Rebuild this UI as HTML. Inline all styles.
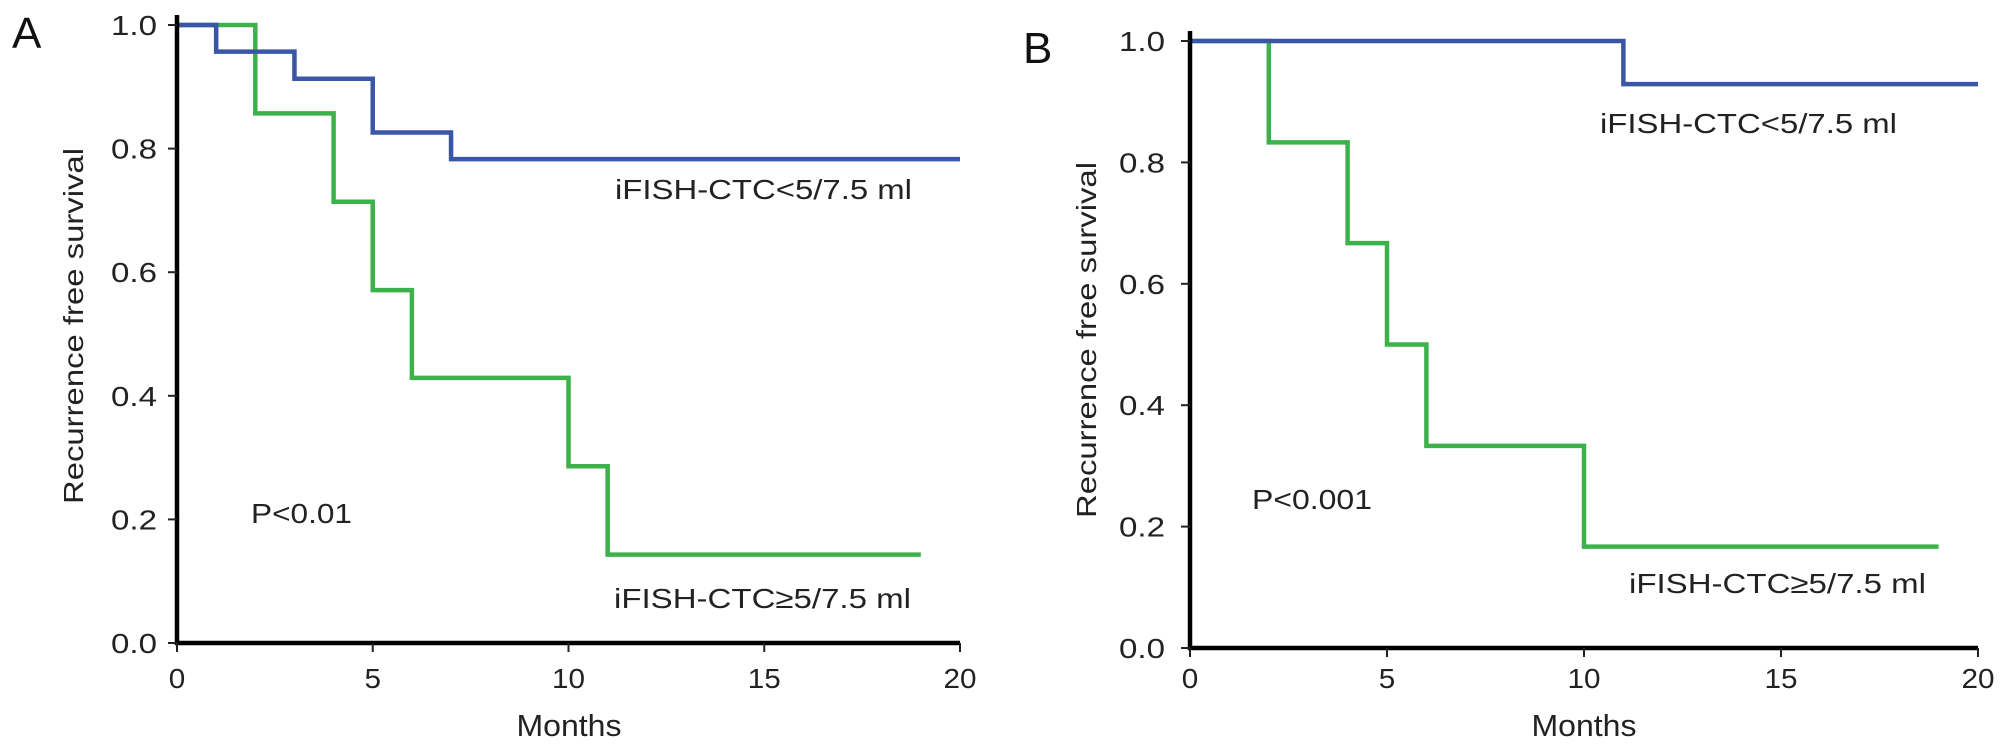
<!DOCTYPE html>
<html><head><meta charset="utf-8"><style>
html,body{margin:0;padding:0;background:#fff;}
svg{display:block;font-family:"Liberation Sans",sans-serif;}
</style></head><body>
<svg id="fig" width="2008" height="749" viewBox="0 0 2008 749"></svg>
<script>
// Panel A data
const aBlueTimes = [0, 1, 3, 5, 7, 20];
const aBlueSurv  = [1.0, 0.957, 0.913, 0.826, 0.783, 0.783];
const aGreenTimes = [0, 2, 4, 5, 6, 10, 11, 19];
const aGreenSurv  = [1.0, 0.857, 0.714, 0.571, 0.429, 0.286, 0.143, 0.143];
// Panel B data
const bBlueTimes = [0, 11, 20];
const bBlueSurv  = [1.0, 0.929, 0.929];
const bGreenTimes = [0, 2, 4, 5, 6, 10, 19];
const bGreenSurv  = [1.0, 0.833, 0.667, 0.5, 0.333, 0.167, 0.167];
const xTicks = [0, 5, 10, 15, 20];
const yTicks = [0.0, 0.2, 0.4, 0.6, 0.8, 1.0];
const yTickLabels = ["0.0", "0.2", "0.4", "0.6", "0.8", "1.0"];

const NS = "http://www.w3.org/2000/svg";
const svg = document.getElementById("fig");
function mk(tag, attrs, parent) {
  const e = document.createElementNS(NS, tag);
  for (const k in attrs) e.setAttribute(k, attrs[k]);
  (parent || svg).appendChild(e);
  return e;
}
function txt(s, attrs, parent) { const t = mk("text", attrs, parent); t.textContent = s; return t; }

function panel(cfg) {
  const g = mk("g", {});
  
  
  const sx = v => cfg.x0 + (cfg.x1 - cfg.x0) * v / 20;
  const sy = v => cfg.y0 + (cfg.y1 - cfg.y0) * v;
  const L = txt(cfg.letter, {x: cfg.letterX, y: cfg.letterY, "font-size": 44, fill: "#111"}, g);
  
  
  function series(times, surv, color, nm) {
    let d = "M" + sx(times[0]) + "," + sy(surv[0]);
    for (let i = 1; i < times.length; i++) {
      d += " H" + sx(times[i]);
      d += " V" + sy(surv[i]);
    }
    const p = mk("path", {d: d, fill: "none", stroke: color, "stroke-width": 4.5, "stroke-linejoin": "miter"}, g);
    
    
  }
  series(cfg.gt, cfg.gs, "#3db24b", "curve-high-ctc");
  series(cfg.bt, cfg.bs, "#3a56a6", "curve-low-ctc");
  const ya = mk("line", {x1: cfg.x0, y1: cfg.y1 - 10, x2: cfg.x0, y2: cfg.y0 + 2, stroke: "#000", "stroke-width": 4.5}, g);
  
  
  const xa = mk("line", {x1: cfg.x0 - 2, y1: cfg.y0, x2: cfg.x1, y2: cfg.y0, stroke: "#000", "stroke-width": 4.5}, g);
  
  
  yTicks.forEach((v, i) => {
    const y = sy(v);
    const t = mk("line", {x1: cfg.x0 - 9, y1: y, x2: cfg.x0, y2: y, stroke: "#222", "stroke-width": 2}, g);
    
    
    const l = txt(yTickLabels[i], {x: cfg.x0 - cfg.labOff, y: y + 10, "font-size": 28, "text-anchor": "end", fill: "#222", textLength: 46, lengthAdjust: "spacingAndGlyphs"}, g);
    
    
  });
  xTicks.forEach(v => {
    const x = sx(v);
    const t = mk("line", {x1: x, y1: cfg.y0, x2: x, y2: cfg.y0 + 9, stroke: "#222", "stroke-width": 2}, g);
    
    
    const s = String(v);
    const l = txt(s, {x: x, y: 688, "font-size": 28, "text-anchor": "middle", fill: "#222", textLength: 16.5 * s.length, lengthAdjust: "spacingAndGlyphs"}, g);
    
    
  });
  const xt = txt("Months", {x: cfg.monthsX, y: 736, "font-size": 31, "text-anchor": "middle", fill: "#222", textLength: 105, lengthAdjust: "spacingAndGlyphs"}, g);
  
  
  const yt = txt("Recurrence free survival", {x: 0, y: 0, "font-size": 28, "text-anchor": "middle", fill: "#222", textLength: 356, lengthAdjust: "spacingAndGlyphs", transform: "translate(" + (cfg.ytX + 10) + "," + cfg.ytY + ") rotate(-90)"}, g);
  
  
  const p = txt(cfg.pText, {x: cfg.pX, y: cfg.pY + 10, "font-size": 28, fill: "#222", textLength: cfg.pW, lengthAdjust: "spacingAndGlyphs"}, g);
  
  
  const lb = txt("iFISH-CTC<5/7.5 ml", {x: cfg.lbX, y: cfg.lbY + 10, "font-size": 28, fill: "#222", textLength: 297, lengthAdjust: "spacingAndGlyphs"}, g);
  
  
  const lg = txt("iFISH-CTC\u22655/7.5 ml", {x: cfg.lgX, y: cfg.lgY + 10, "font-size": 28, fill: "#222", textLength: 297, lengthAdjust: "spacingAndGlyphs"}, g);
  
  
}

panel({name: "panel-a", letter: "A", letterX: 12, letterY: 48,
  x0: 177, x1: 960, y0: 643, y1: 25, labOff: 20,
  bt: aBlueTimes, bs: aBlueSurv, gt: aGreenTimes, gs: aGreenSurv,
  monthsX: 569, ytX: 73, ytY: 326,
  pText: "P<0.01", pX: 251, pY: 513, pW: 101,
  lbX: 615, lbY: 189, lgX: 614, lgY: 598});
panel({name: "panel-b", letter: "B", letterX: 1023, letterY: 63,
  x0: 1190, x1: 1978, y0: 648, y1: 41, labOff: 25,
  bt: bBlueTimes, bs: bBlueSurv, gt: bGreenTimes, gs: bGreenSurv,
  monthsX: 1584, ytX: 1086, ytY: 340,
  pText: "P<0.001", pX: 1252, pY: 499, pW: 120,
  lbX: 1600, lbY: 123, lgX: 1629, lgY: 583});
</script>
</body></html>
